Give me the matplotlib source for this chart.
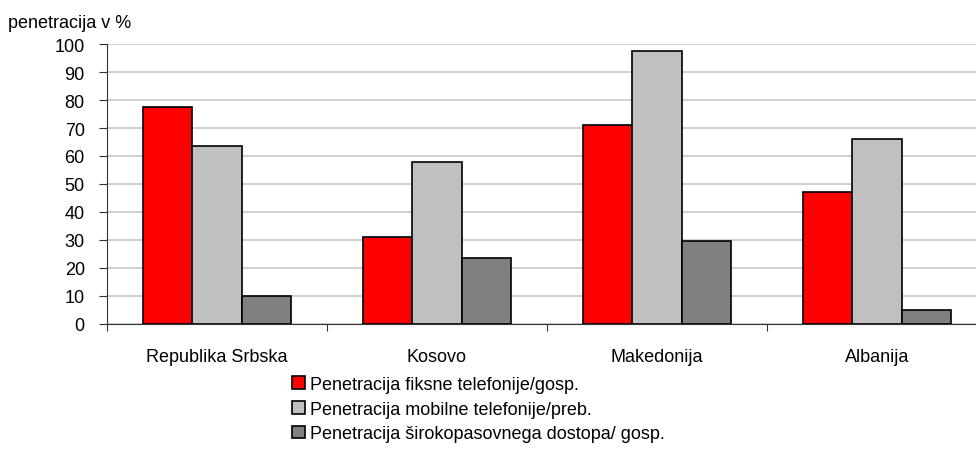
import numpy as np
import matplotlib.pyplot as plt

plt.rcParams['font.family'] = ['Liberation Sans', 'DejaVu Sans']

countries = ["Republika Srbska", "Kosovo", "Makedonija", "Albanija"]
fiksna = [77.5, 31, 71, 47]
mobilna = [63.5, 58, 97.5, 66]
sirokopasovni = [10, 23.5, 29.5, 5]
series_names = ["Penetracija fiksne telefonije/gosp.",
                "Penetracija mobilne telefonije/preb.",
                "Penetracija širokopasovnega dostopa/ gosp."]
colors = ["#ff0000", "#c0c0c0", "#808080"]

fig = plt.figure(figsize=(9.76, 4.52), dpi=100)
ax = fig.add_axes([107/976, 1 - 325/452, (976 - 107)/976, 280/452])

x = np.arange(len(countries))
w = 0.223
for i, (vals, name, c) in enumerate(zip([fiksna, mobilna, sirokopasovni], series_names, colors)):
    ax.bar(x + (i - 1) * w, vals, w, color=c, edgecolor="black", linewidth=1.2, label=name, zorder=3)

ax.set_xlim(-0.5, 3.45)
ax.set_ylim(0, 100)
ax.set_yticks(range(0, 101, 10))
ax.yaxis.grid(True, color="#c8c8c8", linewidth=1.2, zorder=0)
ax.set_xticks(np.arange(-0.5, 3.5, 1), minor=False)
ax.set_xticklabels([])
ax.set_xticks(x, minor=True)
ax.set_xticklabels(countries, minor=True, fontsize=13)
ax.tick_params(axis="x", which="minor", length=0, pad=17)
ax.tick_params(axis="x", which="major", length=5, direction="out", color="#333333")
ax.tick_params(axis="y", length=6, labelsize=13, color="#333333", pad=10)
for s in ["top", "right"]:
    ax.spines[s].set_visible(False)
ax.spines["left"].set_color("#333333")
ax.spines["bottom"].set_color("#333333")

fig.text(8/976, 1 - 23/452, "penetracija v %", fontsize=13, va="center", ha="left")

fig.legend(loc="upper left", bbox_to_anchor=(292/976, 1 - 377/452), frameon=False,
           fontsize=13, handlelength=0.7, handleheight=0.7, handletextpad=0.3,
           labelspacing=0.42, borderpad=0, borderaxespad=0)

fig.savefig("out.png", dpi=100)
